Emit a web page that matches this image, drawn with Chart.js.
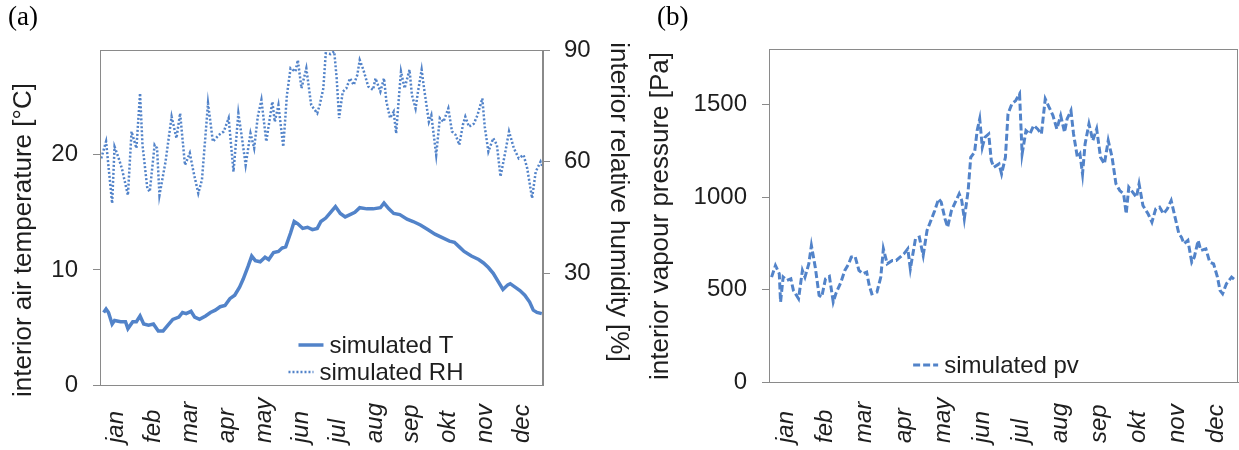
<!DOCTYPE html>
<html>
<head>
<meta charset="utf-8">
<script src="https://cdn.jsdelivr.net/npm/chart.js@4.4.1/dist/chart.umd.min.js"></script>
<style>
  body { margin: 0; background: #fff; }
  #wrap { position: relative; width: 1239px; height: 450px; overflow: hidden; }
  .panel { position: absolute; top: 0; height: 450px; }
  #boxA { left: 0; width: 635px; }
  #boxB { left: 635px; width: 604px; }
  .tag { position: absolute; top: 1px; font: 27px "Liberation Serif", "Times New Roman", serif; color: #000; }
</style>
</head>
<body>
<div id="wrap">
  <div class="panel" id="boxA"><canvas id="chartA" width="635" height="450"></canvas></div>
  <div class="panel" id="boxB"><canvas id="chartB" width="604" height="450"></canvas></div>
  <div class="tag" style="left:8px">(a)</div>
  <div class="tag" style="left:657px">(b)</div>
</div>
<script>
// Month labels and where they sit on the day axis.
const monthNames = ['jan', 'feb', 'mar', 'apr', 'may', 'jun', 'jul', 'aug', 'sep', 'okt', 'nov', 'dec'];
const monthTicks = [15.2, 45.6, 76.0, 106.5, 136.9, 167.3, 197.7, 228.1, 258.5, 288.9, 319.4, 349.8];

// Tick labels on the value axes.
const tempTicks = [0, 10, 20];
const rhTicks = [30, 60, 90];
const pvTicks = [0, 500, 1000, 1500];

// Simulated interior air temperature (degC).
const tDays = [3, 5, 7, 10, 12, 17, 21, 23, 27, 30, 33, 36, 40, 44, 48, 52, 56, 60, 65, 68,
  71, 75, 78, 82, 87, 91, 95, 99, 103, 107, 111, 115, 118, 122, 125, 128, 132, 136, 139, 143,
  147, 150, 153, 157, 160, 163, 167, 171, 175, 179, 182, 186, 190, 194, 198, 202, 206, 210, 214, 220,
  225, 231, 234, 238, 242, 247, 253, 258, 264, 270, 276, 282, 288, 292, 296, 300, 306, 312, 316, 320,
  324, 328, 332, 336, 338, 342, 346, 350, 354, 357, 360, 364];
const tVals = [6.3, 6.6, 6.3, 5.3, 5.6, 5.5, 5.5, 4.9, 5.5, 5.5, 6.0, 5.3, 5.2, 5.3, 4.7, 4.7, 5.2, 5.7, 5.9, 6.3,
  6.2, 6.4, 5.9, 5.7, 6.0, 6.3, 6.5, 6.8, 6.9, 7.5, 7.8, 8.5, 9.2, 10.3, 11.2, 10.8, 10.7, 11.1, 10.9, 11.5,
  11.6, 11.9, 12.0, 13.2, 14.2, 14.0, 13.6, 13.7, 13.5, 13.6, 14.2, 14.5, 15.0, 15.5, 14.9, 14.6, 14.8, 15.0, 15.4, 15.3,
  15.3, 15.4, 15.8, 15.3, 14.9, 14.8, 14.4, 14.2, 13.9, 13.5, 13.1, 12.8, 12.5, 12.4, 12.0, 11.6, 11.2, 10.9, 10.6, 10.2,
  9.7, 9.0, 8.3, 8.7, 8.8, 8.5, 8.2, 7.8, 7.2, 6.5, 6.3, 6.2];

// Simulated interior relative humidity (%).
const rhDays = [1, 5, 10, 12, 15, 18, 23, 26, 30, 33, 35, 39, 41, 45, 47, 49, 54, 59, 63, 66,
  70, 74, 77, 81, 84, 89, 93, 98, 102, 106, 110, 114, 117, 120, 124, 127, 130, 133, 137, 142,
  144, 147, 151, 154, 157, 161, 163, 166, 170, 174, 179, 181, 184, 186, 190, 193, 195, 197, 200, 203,
  206, 209, 212, 214, 217, 221, 225, 227, 231, 234, 236, 239, 242, 244, 246, 248, 251, 255, 257, 260,
  262, 265, 267, 271, 273, 277, 280, 283, 287, 290, 293, 296, 299, 301, 304, 308, 311, 315, 317, 320,
  324, 327, 330, 334, 337, 341, 345, 349, 352, 356, 359, 363, 364.5];
const rhVals = [60.9, 65.4, 48.8, 64.0, 61.3, 58.2, 51.0, 68.1, 63.6, 78.4, 64.5, 52.8, 51.9, 64.5, 63.6, 51.0, 60.0, 72.1, 66.3, 73.0,
  59.1, 62.3, 57.3, 51.5, 55.1, 75.7, 65.4, 67.2, 68.1, 71.7, 57.3, 73.0, 66.3, 59.1, 67.6, 63.6, 72.1, 76.6, 65.4, 76.1,
  70.7, 75.2, 64.0, 77.9, 85.1, 84.2, 87.3, 79.7, 85.1, 75.2, 73.0, 75.2, 79.7, 89.1, 88.9, 89.6, 82.4, 71.7, 78.8, 79.7,
  82.4, 80.6, 83.3, 87.3, 84.7, 80.2, 79.3, 82.4, 78.8, 82.4, 76.1, 71.7, 73.4, 67.6, 76.1, 84.2, 79.7, 84.7, 77.9, 74.3,
  78.8, 84.7, 79.7, 70.7, 72.5, 61.8, 71.7, 70.7, 74.3, 68.1, 67.2, 64.5, 69.9, 72.1, 69.4, 70.2, 72.5, 77.0, 69.4, 62.7,
  66.3, 64.5, 56.0, 62.7, 68.1, 63.6, 60.9, 61.8, 58.2, 50.2, 57.3, 60.0, 58.7];

// Simulated interior vapour pressure (Pa).
const pvDays = [2, 5, 8, 9, 11, 14, 17, 19, 23, 26, 28, 31, 33, 36, 39, 41, 44, 47, 50, 52,
  56, 59, 62, 64, 67, 70, 73, 76, 78, 80, 84, 87, 89, 92, 96, 99, 102, 105, 108, 110,
  114, 117, 120, 123, 126, 129, 132, 134, 137, 139, 142, 145, 148, 150, 152, 155, 157, 160, 162, 164,
  166, 168, 171, 173, 175, 179, 181, 184, 186, 189, 192, 195, 197, 200, 203, 206, 209, 212, 215, 218,
  221, 224, 227, 230, 232, 235, 237, 240, 242, 244, 246, 249, 252, 255, 258, 261, 264, 267, 270, 273,
  276, 278, 280, 283, 286, 288, 291, 295, 298, 301, 304, 307, 310, 313, 316, 319, 321, 323, 326, 329,
  331, 334, 336, 340, 343, 346, 349, 351, 353, 356, 360, 363];
const pvVals = [567, 630, 585, 432, 567, 549, 558, 495, 450, 603, 567, 639, 738, 621, 468, 459, 558, 571, 432, 477,
  540, 603, 639, 675, 679, 603, 585, 594, 522, 477, 486, 567, 720, 639, 657, 657, 675, 693, 720, 612,
  774, 783, 684, 819, 873, 927, 990, 972, 882, 837, 927, 972, 1017, 981, 882, 1035, 1215, 1242, 1359, 1422,
  1269, 1323, 1341, 1197, 1161, 1179, 1125, 1215, 1449, 1503, 1521, 1557, 1233, 1359, 1341, 1386, 1368, 1341, 1530, 1485,
  1440, 1368, 1440, 1350, 1422, 1467, 1341, 1215, 1233, 1125, 1287, 1395, 1305, 1368, 1215, 1179, 1305, 1215, 1071, 1035,
  1017, 909, 1053, 1026, 999, 1071, 954, 909, 864, 936, 945, 909, 936, 981, 891, 801, 783, 747, 765, 648,
  675, 765, 711, 720, 648, 639, 567, 495, 477, 531, 567, 549];

const FAMILY = '"Liberation Sans", Arial, sans-serif';
const TEXT = '#1e1e1e';
const AXIS = '#8a8a8a';
const BLUE = '#5283c9';

function points( days, vals ) {
    return days.map( ( d, i ) => ({ x: d, y: vals[i] }) );
}

// Grey box round the plot area (Excel style).
const frame = {
    id: 'frame',
    afterDraw( chart ) {
        const a = chart.chartArea;
        const ctx = chart.ctx;
        ctx.save();
        ctx.strokeStyle = AXIS;
        ctx.lineWidth = 1;
        ctx.strokeRect( Math.round( a.left ) + 0.5, Math.round( a.top ) + 0.5,
            Math.round( a.right - a.left ) - 1, Math.round( a.bottom - a.top ) );
        ctx.restore();
    }
};

// Axis titles, placed relative to the canvas.
const sideTitles = {
    id: 'sideTitles',
    afterDraw( chart, args, opts ) {
        const ctx = chart.ctx;
        opts.items.forEach( t => {
            ctx.save();
            ctx.translate( t.x, t.y );
            ctx.rotate( t.angle );
            ctx.font = '26px ' + FAMILY;
            ctx.fillStyle = TEXT;
            ctx.textAlign = 'center';
            ctx.textBaseline = 'middle';
            ctx.fillText( t.text, 0, 0 );
            ctx.restore();
        });
    }
};

// Rotated italic month names, bottom aligned like the original.
const monthLabels = {
    id: 'monthLabels',
    afterDraw( chart, args, opts ) {
        const scale = chart.scales.x;
        const ctx = chart.ctx;
        scale.ticks.forEach( ( t, i ) => {
            ctx.save();
            ctx.translate( scale.getPixelForValue( t.value ) + opts.dx, chart.chartArea.bottom + opts.offset );
            ctx.rotate( -Math.PI / 2 );
            ctx.font = 'italic 24px ' + FAMILY;
            ctx.fillStyle = TEXT;
            ctx.textAlign = 'left';
            ctx.textBaseline = 'middle';
            ctx.fillText( monthNames[i], 0, 0 );
            ctx.restore();
        });
    }
};

// Legend drawn inside the plot area, each row centred on cx.
const innerLegend = {
    id: 'innerLegend',
    afterDraw( chart, args, opts ) {
        const ctx = chart.ctx;
        ctx.save();
        ctx.font = '24px ' + FAMILY;
        ctx.textBaseline = 'middle';
        ctx.textAlign = 'left';
        opts.rows.forEach( row => {
            const ds = chart.data.datasets[row.index];
            const w = opts.sample + opts.gap + ctx.measureText( ds.label ).width;
            const x0 = opts.cx - w / 2;
            ctx.beginPath();
            ctx.setLineDash( ds.borderDash || [] );
            ctx.lineWidth = ds.borderWidth;
            ctx.strokeStyle = ds.borderColor;
            ctx.moveTo( x0, row.y );
            ctx.lineTo( x0 + opts.sample, row.y );
            ctx.stroke();
            ctx.setLineDash( [] );
            ctx.fillStyle = TEXT;
            ctx.fillText( ds.label, x0 + opts.sample + opts.gap, row.y + 1 );
        });
        ctx.restore();
    }
};

function dayAxis( height ) {
    return {
        type: 'linear',
        min: 0,
        max: 365,
        afterBuildTicks: s => { s.ticks = monthTicks.map( v => ({ value: v }) ); },
        afterFit: s => { s.height = height; },
        ticks: { display: false },
        grid: { display: false },
        border: { color: AXIS, width: 1 }
    };
}

function valueAxis( position, max, tickList, width, padding ) {
    return {
        type: 'linear',
        position: position,
        min: 0,
        max: max,
        afterBuildTicks: s => { s.ticks = tickList.map( v => ({ value: v }) ); },
        afterFit: s => { s.width = width; },
        ticks: {
            color: TEXT,
            padding: padding,
            font: { family: FAMILY, size: 24 },
            // Plain numbers, no thousands separator.
            callback: v => String( v )
        },
        grid: { drawOnChartArea: false, drawTicks: true, tickLength: 7, color: AXIS },
        border: { color: AXIS, width: 1 }
    };
}

new Chart( document.getElementById( 'chartA' ), {
    type: 'line',
    data: {
        datasets: [{
            label: 'simulated T',
            data: points( tDays, tVals ),
            yAxisID: 'y',
            borderColor: BLUE,
            borderWidth: 3.5,
            pointRadius: 0,
            tension: 0
        }, {
            label: 'simulated RH',
            data: points( rhDays, rhVals ),
            yAxisID: 'y1',
            borderColor: BLUE,
            borderWidth: 2.5,
            borderDash: [2, 2],
            pointRadius: 0,
            tension: 0
        }]
    },
    options: {
        responsive: false,
        animation: false,
        layout: { padding: { top: 50, left: 0, right: 0, bottom: 0 } },
        scales: {
            x: dayAxis( 65 ),
            y: valueAxis( 'left', 29.1, tempTicks, 100, 15 ),
            y1: valueAxis( 'right', 90, rhTicks, 92, 14 )
        },
        plugins: {
            legend: { display: false },
            tooltip: { enabled: false },
            sideTitles: { items: [
                { text: 'interior air temperature [°C]', x: 24, y: 240, angle: -Math.PI / 2 },
                { text: 'interior relative humidity [%]', x: 618, y: 202, angle: Math.PI / 2 }
            ] },
            monthLabels: { offset: 58, dx: -2 },
            innerLegend: { cx: 376, sample: 25, gap: 6, rows: [ { index: 0, y: 345 }, { index: 1, y: 372 } ] }
        }
    },
    plugins: [ frame, sideTitles, monthLabels, innerLegend ]
});

new Chart( document.getElementById( 'chartB' ), {
    type: 'line',
    data: {
        datasets: [{
            label: 'simulated pv',
            data: points( pvDays, pvVals ),
            borderColor: BLUE,
            borderWidth: 3,
            borderDash: [7, 3],
            pointRadius: 0,
            tension: 0
        }]
    },
    options: {
        responsive: false,
        animation: false,
        layout: { padding: { top: 49, left: 0, right: 1, bottom: 0 } },
        scales: {
            x: dayAxis( 68 ),
            y: valueAxis( 'left', 1800, pvTicks, 134, 15 )
        },
        plugins: {
            legend: { display: false },
            tooltip: { enabled: false },
            sideTitles: { items: [
                { text: 'interior vapour pressure [Pa]', x: 26, y: 216, angle: -Math.PI / 2 }
            ] },
            monthLabels: { offset: 61, dx: -2 },
            innerLegend: { cx: 361, sample: 25, gap: 6, rows: [ { index: 0, y: 365 } ] }
        }
    },
    plugins: [ frame, sideTitles, monthLabels, innerLegend ]
});
</script>
</body>
</html>
